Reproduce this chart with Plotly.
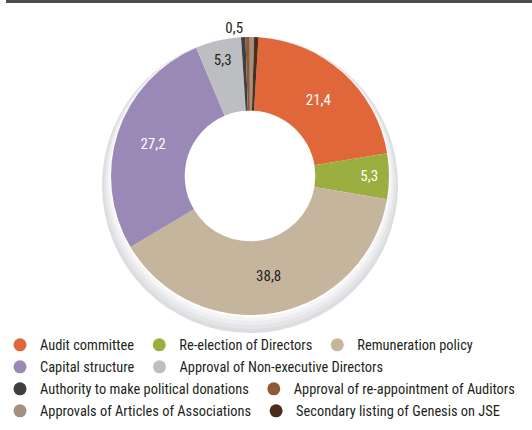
import plotly.graph_objects as go

labels = ["Audit committee", "Re-election of Directors", "Remuneration policy",
          "Capital structure", "Approval of Non-executive Directors",
          "Authority to make political donations", "Approval of re-appointment of Auditors",
          "Approvals of Articles of Associations", "Secondary listing of Genesis on JSE"]
values = [21.4, 5.3, 38.8, 27.2, 5.3, 0.5, 0.5, 0.5, 0.5]
colors = ["#e0673a", "#9bae40", "#c4b59c", "#9a88b7", "#bdbec1",
          "#3e3f41", "#8c5a34", "#a48f80", "#4b2d1b"]
text_colors = ["white", "white", "#231f20", "white", "#231f20",
               "#231f20", "#231f20", "#231f20", "#231f20"]
shown = [True, True, True, True, True, False, True, False, False]
positions = ["inside"] * 5 + ["none", "outside", "none", "none"]
legend_rows = [1, 1, 1, 2, 2, 3, 3, 4, 4]

W, H = 532, 430
FONT = "Liberation Sans Narrow, Roboto Condensed, Roboto, sans-serif"

def px(x):
    return x / W

def py(y):
    return 1 - y / H

texts = [f"{v:.1f}".replace(".", ",") if s else "" for v, s in zip(values, shown)]

fig = go.Figure()
fig.add_trace(go.Pie(
    labels=labels, values=values, sort=False, direction="clockwise", rotation=3.5,
    hole=0.47, marker=dict(colors=colors, line=dict(width=0)),
    text=texts, textinfo="text", textposition=positions,
    insidetextfont=dict(color=text_colors, size=15, family=FONT),
    outsidetextfont=dict(color="#231f20", size=15, family=FONT),
    insidetextorientation="horizontal",
    domain=dict(x=[px(111), px(389)], y=[py(315), py(37)]),
    showlegend=False, hoverinfo="label+value",
))

for lab, col, row in zip(labels, colors, legend_rows):
    fig.add_trace(go.Scatter(x=[None], y=[None], mode="markers", name=lab,
                             legend="legend" if row == 1 else f"legend{row}",
                             marker=dict(color=col, size=13, symbol="circle")))

shapes = []
# soft shadow under the doughnut
shadow = [(9, 148, "#dcdde0"), (7, 146, "#e4e5e7"), (5, 144, "#ecedee"), (3, 142, "#f5f5f6"), (1, 140, "#ffffff")]
cx, cy = 250, 176
for off, r, c in shadow:
    shapes.append(dict(type="circle", xref="paper", yref="paper", layer="below",
                       x0=px(cx - r), x1=px(cx + r), y0=py(cy + off + r), y1=py(cy + off - r),
                       fillcolor=c, line=dict(width=0)))
shapes.append(dict(type="line", xref="paper", yref="paper", x0=px(6), x1=1,
                   y0=py(1.5), y1=py(1.5), line=dict(color="#4d4d4f", width=3)))

row_y = {1: 345, 2: 367, 3: 389, 4: 411}
legend_common = dict(orientation="h", x=0, xanchor="left", yanchor="middle",
                     font=dict(family=FONT, size=14.4, color="#231f20"),
                     itemwidth=30, bgcolor="rgba(0,0,0,0)", borderwidth=0)
legends = {("legend" if r == 1 else f"legend{r}"): dict(legend_common, y=py(yv))
           for r, yv in row_y.items()}

fig.update_layout(
    width=W, height=H, margin=dict(l=0, r=0, t=0, b=0),
    paper_bgcolor="white", plot_bgcolor="white",
    xaxis=dict(visible=False), yaxis=dict(visible=False),
    shapes=shapes,
    font=dict(family=FONT),
    **legends,
)

fig.write_html("out.html")
